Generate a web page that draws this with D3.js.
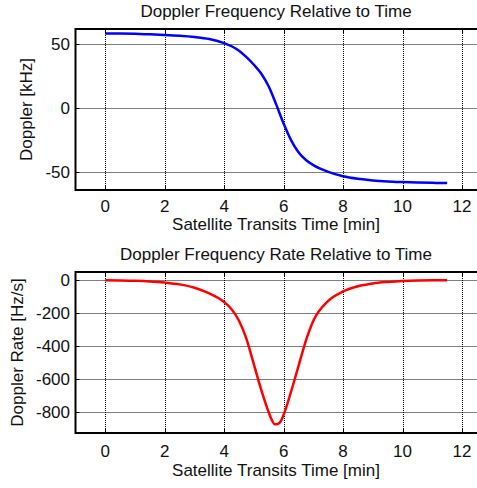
<!DOCTYPE html>
<html>
<head>
<meta charset="utf-8">
<script src="https://cdn.jsdelivr.net/npm/d3@7"></script>
<style>
  body { margin: 0; background: #fff; }
  svg { display: block; font-family: "Liberation Sans", Arial, sans-serif; }
  .grid line { stroke: #000; stroke-width: 1; stroke-dasharray: 1,1; }
</style>
</head>
<body>
<svg id="chart" width="477" height="488"></svg>
<script>
// time axis of the doppler curve (min) and its values (kHz)
const dopplerTime = [0, 0.5, 1, 1.5, 2, 2.5, 3, 3.5, 4, 4.25, 4.5, 4.75, 5, 5.25, 5.5, 5.75, 6, 6.25, 6.5, 6.75, 7, 7.25, 7.5, 8, 8.5, 9, 9.5, 10, 10.5, 11, 11.5];
const dopplerKHz = [58.5, 58.4, 58.2, 57.8, 57.4, 56.8, 55.8, 54.2, 51, 48.5, 45, 40, 34, 27, 17, 3, -12, -25, -34.5, -40.5, -44.5, -47.5, -49.8, -53.2, -55.2, -56.5, -57.3, -57.8, -58.2, -58.4, -58.5];

// time axis of the doppler rate curve (min) and its values (Hz/s)
const rateTime = [0, 0.5, 1, 1.5, 2, 2.5, 3, 3.5, 4, 4.25, 4.5, 4.75, 5, 5.25, 5.5, 5.6, 5.7, 5.8, 5.9, 6, 6.25, 6.5, 6.75, 7, 7.5, 8, 8.5, 9, 9.5, 10, 10.5, 11, 11.5];
const rateHz = [0, -1, -3, -7, -14, -25, -45, -80, -132, -175, -245, -355, -510, -665, -800, -845, -872, -870, -855, -815, -675, -520, -365, -245, -125, -68, -36, -19, -10, -4, -1, 0, 0];

const xTicks = [0, 2, 4, 6, 8, 10, 12];
const dopplerTicks = [-50, 0, 50];
const rateTicks = [-800, -600, -400, -200, 0];

const svg = d3.select("#chart");
const fontSize = 17;

const drawPanel = (opts) => {
    const { top, bottom, yDomain, yTicks, times, values, color, title, yLabel } = opts;
    const left = 75.5;
    const frameRight = 490;

    const x = d3.scaleLinear().domain([-1, 12]).range([left, 462]);
    const y = d3.scaleLinear().domain(yDomain).range([bottom, top]);

    const g = svg.append("g");

    // dotted grid
    const grid = g.append("g").attr("class", "grid");
    grid.selectAll(".vx")
        .data(xTicks)
        .join("line")
        .attr("x1", d => Math.round(x(d)) + 0.5)
        .attr("x2", d => Math.round(x(d)) + 0.5)
        .attr("y1", top)
        .attr("y2", bottom);
    grid.selectAll(".hy")
        .data(yTicks)
        .join("line")
        .attr("x1", left)
        .attr("x2", frameRight)
        .attr("y1", d => Math.round(y(d)) + 0.5)
        .attr("y2", d => Math.round(y(d)) + 0.5);

    // inward tick marks
    const tickLen = 4;
    g.selectAll(".tb")
        .data(xTicks)
        .join("line")
        .attr("x1", d => Math.round(x(d)) + 0.5)
        .attr("x2", d => Math.round(x(d)) + 0.5)
        .attr("y1", bottom)
        .attr("y2", bottom - tickLen)
        .attr("stroke", "#000");
    g.selectAll(".tt")
        .data(xTicks)
        .join("line")
        .attr("x1", d => Math.round(x(d)) + 0.5)
        .attr("x2", d => Math.round(x(d)) + 0.5)
        .attr("y1", top)
        .attr("y2", top + tickLen)
        .attr("stroke", "#000");
    g.selectAll(".tl")
        .data(yTicks)
        .join("line")
        .attr("x1", left)
        .attr("x2", left + tickLen)
        .attr("y1", d => Math.round(y(d)) + 0.5)
        .attr("y2", d => Math.round(y(d)) + 0.5)
        .attr("stroke", "#000");

    // line
    const line = d3.line()
        .x((d, i) => x(times[i]))
        .y(d => y(d))
        .curve(d3.curveMonotoneX);
    g.append("path")
        .datum(values)
        .attr("fill", "none")
        .attr("stroke", color)
        .attr("stroke-width", 2.5)
        .attr("stroke-linejoin", "round")
        .attr("d", line);

    // frame (right side runs off the picture)
    g.append("path")
        .attr("d", `M${frameRight},${top}H${left}V${bottom}H${frameRight}`)
        .attr("fill", "none")
        .attr("stroke", "#000")
        .attr("stroke-width", 2);

    // tick labels
    g.selectAll(".xl")
        .data(xTicks)
        .join("text")
        .attr("x", d => x(d))
        .attr("y", bottom + opts.xTickDy)
        .attr("text-anchor", "middle")
        .attr("font-size", fontSize)
        .attr("fill", "#111")
        .text(d => d);
    g.selectAll(".yl")
        .data(yTicks)
        .join("text")
        .attr("x", left - 5.5)
        .attr("y", d => y(d) + 6)
        .attr("text-anchor", "end")
        .attr("font-size", fontSize)
        .attr("fill", "#111")
        .text(d => d);

    // titles
    g.append("text")
        .attr("x", 276)
        .attr("y", top - 12.5)
        .attr("text-anchor", "middle")
        .attr("font-size", fontSize)
        .attr("fill", "#111")
        .text(title);
    g.append("text")
        .attr("x", 276)
        .attr("y", bottom + opts.xLabelDy)
        .attr("text-anchor", "middle")
        .attr("font-size", fontSize)
        .attr("fill", "#111")
        .text("Satellite Transits Time [min]");
    g.append("text")
        .attr("transform", `translate(${opts.yLabelX},${(top + bottom) / 2}) rotate(-90)`)
        .attr("text-anchor", "middle")
        .attr("font-size", fontSize)
        .attr("fill", "#111")
        .text(yLabel);
};

drawPanel({
    top: 29, bottom: 190,
    yDomain: [-64, 62], yTicks: dopplerTicks,
    times: dopplerTime, values: dopplerKHz,
    color: "#0000ff",
    title: "Doppler Frequency Relative to Time",
    yLabel: "Doppler [kHz]",
    yLabelX: 32, xTickDy: 22, xLabelDy: 40
});

drawPanel({
    top: 272, bottom: 433,
    yDomain: [-925, 50], yTicks: rateTicks,
    times: rateTime, values: rateHz,
    color: "#ff0000",
    title: "Doppler Frequency Rate Relative to Time",
    yLabel: "Doppler Rate [Hz/s]",
    yLabelX: 22.5, xTickDy: 24, xLabelDy: 43
});
</script>
</body>
</html>
